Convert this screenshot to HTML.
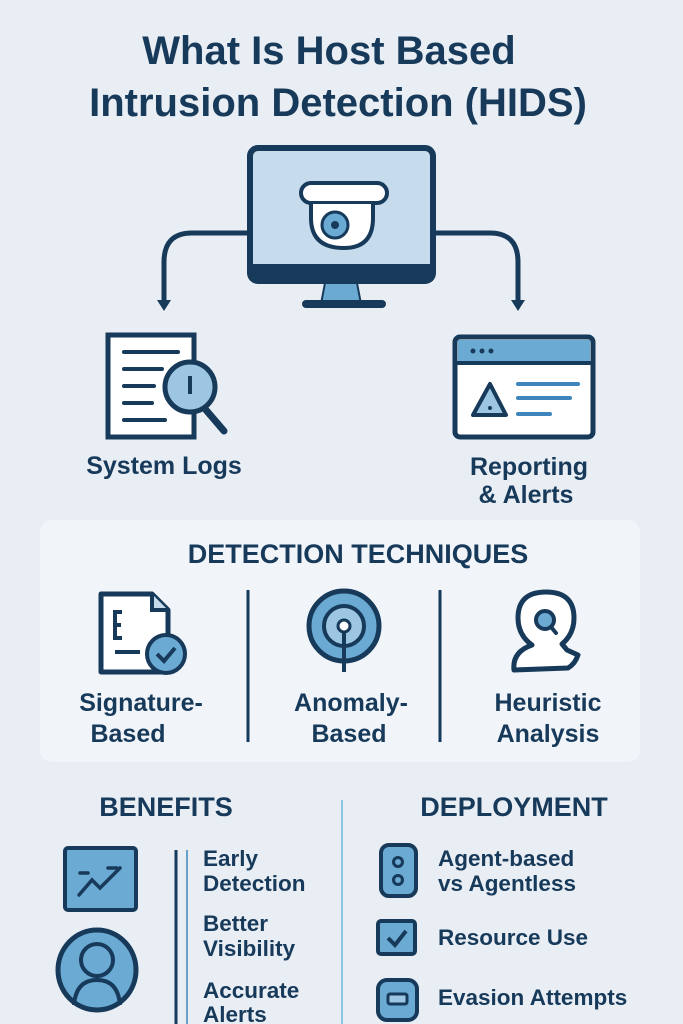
<!DOCTYPE html>
<html><head><meta charset="utf-8"><style>
html,body{margin:0;padding:0;background:#e8eef4;}
svg{display:block}
text{font-family:"Liberation Sans",sans-serif;fill:#17395a;font-weight:bold}
</style></head><body>
<svg width="683" height="1024" viewBox="0 0 683 1024">
<rect width="683" height="1024" fill="#e8eef4"/>
<text x="329" y="64" font-size="40" text-anchor="middle">What Is Host Based</text>
<text x="338" y="116" font-size="40" text-anchor="middle">Intrusion Detection (HIDS)</text>
<!-- monitor -->
<g stroke="#17395a" stroke-width="5" fill="none" stroke-linecap="round">
<path d="M250 233 H192 Q164 233 164 262 V300"/>
<path d="M433 233 H490 Q518 233 518 262 V300"/>
</g>
<path d="M157 300 L171 300 L164 311Z" fill="#17395a"/>
<path d="M511 300 L525 300 L518 311Z" fill="#17395a"/>
<rect x="250" y="148" width="183" height="133" rx="8" fill="#c6dced" stroke="#17395a" stroke-width="6"/>
<rect x="250" y="264" width="183" height="17" fill="#17395a"/>
<path d="M325 283 L357 283 L361 304 L321 304Z" fill="#6aaad3" stroke="#17395a" stroke-width="2"/>
<rect x="302" y="300" width="84" height="8" rx="4" fill="#17395a"/>
<rect x="301" y="183" width="86" height="20" rx="10" fill="#fff" stroke="#17395a" stroke-width="4"/>
<path d="M311 204 V218 Q311 248 344 248 Q373 248 373 218 V204" fill="#fff" stroke="#17395a" stroke-width="4"/>
<circle cx="335" cy="225" r="13" fill="#6aaad3" stroke="#17395a" stroke-width="3"/>
<circle cx="335" cy="225" r="4" fill="#17395a"/>
<!-- system logs icon -->
<rect x="108" y="335" width="86" height="102" fill="#fff" stroke="#17395a" stroke-width="5"/>
<g stroke="#17395a" stroke-width="4" stroke-linecap="round">
<line x1="124" y1="352" x2="178" y2="352"/><line x1="124" y1="369" x2="162" y2="369"/>
<line x1="124" y1="386" x2="154" y2="386"/><line x1="124" y1="403" x2="152" y2="403"/>
<line x1="124" y1="420" x2="165" y2="420"/>
<line x1="206" y1="410" x2="224" y2="431" stroke-width="7"/>
</g>
<circle cx="190" cy="387" r="25" fill="#9cc6e2" stroke="#17395a" stroke-width="5"/>
<line x1="190" y1="376" x2="190" y2="394" stroke="#17395a" stroke-width="4"/>
<text x="164" y="474" font-size="25" text-anchor="middle">System Logs</text>
<!-- reporting icon -->
<rect x="455" y="337" width="138" height="100" rx="5" fill="#fff" stroke="#17395a" stroke-width="5"/>
<rect x="458" y="340" width="132" height="22" fill="#6aaad3"/>
<line x1="457" y1="363" x2="591" y2="363" stroke="#17395a" stroke-width="4"/>
<circle cx="473" cy="351" r="2.5" fill="#17395a"/><circle cx="482" cy="351" r="2.5" fill="#17395a"/><circle cx="491" cy="351" r="2.5" fill="#17395a"/>
<path d="M490 384 L506 415 L473 415Z" fill="#9cc6e2" stroke="#17395a" stroke-width="4" stroke-linejoin="round"/>
<circle cx="490" cy="408" r="2" fill="#17395a"/>
<g stroke="#3f85bb" stroke-width="4" stroke-linecap="round">
<line x1="518" y1="384" x2="578" y2="384"/><line x1="518" y1="398" x2="570" y2="398"/><line x1="518" y1="414" x2="550" y2="414"/>
</g>
<text x="529" y="475" font-size="25" text-anchor="middle">Reporting</text>
<text x="526" y="503" font-size="25" text-anchor="middle">&amp; Alerts</text>
<!-- detection panel -->
<rect x="40" y="520" width="600" height="242" rx="12" fill="#f1f5f9"/>
<text x="358" y="563" font-size="27" text-anchor="middle">DETECTION TECHNIQUES</text>
<line x1="248" y1="590" x2="248" y2="742" stroke="#17395a" stroke-width="3"/>
<line x1="440" y1="590" x2="440" y2="742" stroke="#17395a" stroke-width="3"/>
<!-- signature icon -->
<path d="M101 594 H152 L168 610 V672 H101Z" fill="#fff" stroke="#17395a" stroke-width="5" stroke-linejoin="round"/>
<path d="M152 594 V610 H168" fill="#c6dced" stroke="#17395a" stroke-width="4"/>
<path d="M122 612 H115 V638 H122 M115 625 H121" stroke="#17395a" stroke-width="4" fill="none"/>
<line x1="115" y1="652" x2="140" y2="652" stroke="#17395a" stroke-width="4"/>
<circle cx="166" cy="654" r="19" fill="#6aaad3" stroke="#17395a" stroke-width="4"/>
<path d="M157 654 L164 661 L175 648" stroke="#17395a" stroke-width="4" fill="none"/>
<text x="141" y="711" font-size="25" text-anchor="middle">Signature-</text>
<text x="128" y="742" font-size="25" text-anchor="middle">Based</text>
<!-- anomaly icon -->
<circle cx="344" cy="626" r="35" fill="#6aaad3" stroke="#17395a" stroke-width="5"/>
<circle cx="344" cy="626" r="20" fill="#9cc6e2" stroke="#17395a" stroke-width="4"/>
<circle cx="344" cy="626" r="6" fill="#fff" stroke="#17395a" stroke-width="3"/>
<line x1="344" y1="632" x2="344" y2="672" stroke="#17395a" stroke-width="4"/>
<text x="351" y="711" font-size="25" text-anchor="middle">Anomaly-</text>
<text x="349" y="742" font-size="25" text-anchor="middle">Based</text>
<!-- heuristic icon -->
<path d="M514 670 Q512 652 532 645 Q518 635 518 618 Q518 592 546 592 Q574 592 574 618 Q574 634 562 644 L567 650 L578 655 Q575 664 568 668 Z" fill="#fff" stroke="#17395a" stroke-width="5" stroke-linejoin="round" stroke-linecap="round"/>
<circle cx="545" cy="620" r="9" fill="#6aaad3" stroke="#17395a" stroke-width="4"/>
<line x1="551" y1="627" x2="556" y2="633" stroke="#17395a" stroke-width="4" stroke-linecap="round"/>
<text x="548" y="711" font-size="25" text-anchor="middle">Heuristic</text>
<text x="548" y="742" font-size="25" text-anchor="middle">Analysis</text>
<!-- benefits -->
<text x="166" y="816" font-size="27" text-anchor="middle">BENEFITS</text>
<line x1="342" y1="800" x2="342" y2="1024" stroke="#8cc8e0" stroke-width="2"/>
<text x="514" y="816" font-size="27" text-anchor="middle">DEPLOYMENT</text>
<rect x="65" y="848" width="71" height="62" rx="3" fill="#6aaad3" stroke="#17395a" stroke-width="4"/>
<path d="M79 895 L92 880 L100 888 L120 868" stroke="#17395a" stroke-width="3.5" fill="none" stroke-linecap="round"/>
<path d="M80 873 H88 M108 868 H117" stroke="#17395a" stroke-width="3.5" stroke-linecap="round"/>
<ellipse cx="97" cy="970" rx="39" ry="40" fill="#6aaad3" stroke="#17395a" stroke-width="5"/>
<circle cx="97" cy="960" r="16" fill="#6aaad3" stroke="#17395a" stroke-width="4"/>
<path d="M74 1005 Q76 980 97 980 Q118 980 120 1005" fill="none" stroke="#17395a" stroke-width="4"/>
<line x1="176" y1="850" x2="176" y2="1024" stroke="#17395a" stroke-width="3"/>
<line x1="187" y1="850" x2="187" y2="1024" stroke="#3f85bb" stroke-width="1.5"/>
<g font-size="22.5">
<text x="203" y="866">Early</text><text x="203" y="891">Detection</text>
<text x="203" y="931">Better</text><text x="203" y="956">Visibility</text>
<text x="203" y="998">Accurate</text><text x="203" y="1022">Alerts</text>
<text x="438" y="866">Agent-based</text><text x="438" y="891">vs Agentless</text>
<text x="438" y="945">Resource Use</text>
<text x="438" y="1005">Evasion Attempts</text>
</g>
<rect x="381" y="845" width="35" height="51" rx="8" fill="#6aaad3" stroke="#17395a" stroke-width="4"/>
<circle cx="398" cy="862" r="4.5" fill="none" stroke="#17395a" stroke-width="3"/>
<circle cx="398" cy="880" r="4.5" fill="none" stroke="#17395a" stroke-width="3"/>
<rect x="378" y="921" width="37" height="33" rx="3" fill="#6aaad3" stroke="#17395a" stroke-width="4"/>
<path d="M388 938 L395 945 L406 931" stroke="#17395a" stroke-width="4" fill="none"/>
<rect x="378" y="980" width="39" height="40" rx="9" fill="#6aaad3" stroke="#17395a" stroke-width="4"/>
<rect x="388" y="994" width="19" height="10" rx="2" fill="#9cc6e2" stroke="#17395a" stroke-width="3"/>
</svg>
</body></html>
